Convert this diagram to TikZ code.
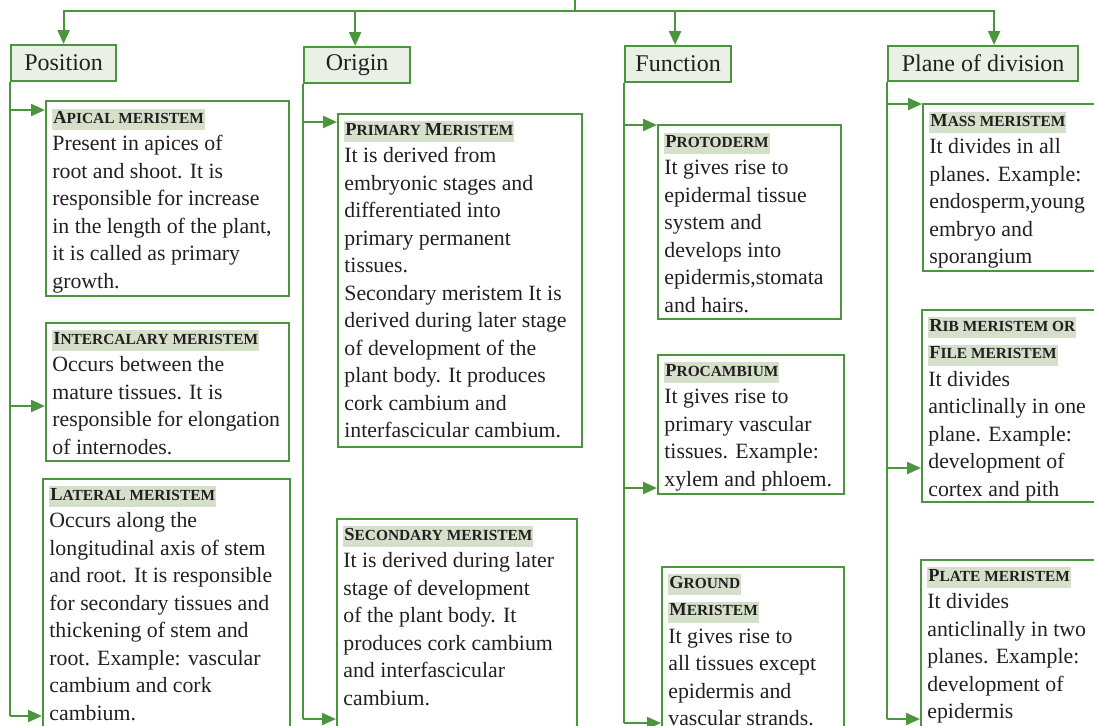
\documentclass[tikz,border=0pt]{standalone}
\usepackage{fontspec}
\setmainfont{Liberation Serif}
\usepackage{tikz}
\usepackage{xcolor}
\usetikzlibrary{arrows.meta,positioning}

\definecolor{leaf}{HTML}{4A953E}
\definecolor{headfill}{HTML}{EAF0E6}
\definecolor{hilite}{HTML}{D5E0CA}
\definecolor{ink}{HTML}{231F20}

\newcommand{\capl}[1]{{\fontsize{9.2}{10}\selectfont #1}}
\newcommand{\ttl}[1]{{\setlength{\fboxsep}{0.5pt}\colorbox{hilite}{\bfseries\fontsize{7.7}{10}\selectfont\rule[-3pt]{0pt}{9.5pt}#1}}}

\begin{document}
\begin{tikzpicture}[x=0.5pt,y=-0.5pt,every node/.style={text=ink},
  hdr/.style={draw=leaf,line width=1.1pt,fill=headfill,anchor=north west,inner sep=0pt,font=\fontsize{12}{14}\selectfont},
  box/.style={draw=leaf,line width=0.9pt,anchor=north west,inner sep=0pt},
  txt/.style={inner sep=0pt,align=left,font=\fontsize{10.9}{13.75}\selectfont},
  link/.style={leaf,line width=1.1pt},
  arr/.style={link,-{Triangle[length=7pt,width=6pt]}}]
\useasboundingbox (0,0) rectangle (1094,725);
\clip (0,0) rectangle (1094,725);

% headings
\node[hdr,minimum width=52.5pt,minimum height=18pt] (pos) at (10,44) {Position};
\node[hdr,minimum width=53pt,minimum height=18pt] (ori) at (303,46) {Origin};
\node[hdr,minimum width=53pt,minimum height=18pt] (fun) at (624,45) {Function};
\node[hdr,minimum width=95pt,minimum height=17.5pt] (pln) at (887,45) {Plane of division};

% top bar
\coordinate (stub) at (575,0);
\coordinate (top) at (575,11);
\draw[link] (stub) -- (top);
\draw[arr] (top) -| (pos.north);
\draw[arr] (top) -| ([xshift=-1pt]ori.north);
\draw[arr] (top) -| ([xshift=-1.5pt]fun.north);
\draw[arr] (top) -| ([xshift=5.5pt]pln.north);

% position
\node[box,minimum width=121.5pt,minimum height=97.5pt] (api) at (45,100) {};
\node[txt,below right=4.5pt and 3.5pt of api.north west] (apitxt) {\ttl{\capl{A}PICAL MERISTEM}\\Present in apices of\\root and shoot. It is\\responsible for increase\\in the length of the plant,\\it is called as primary\\growth.};
\node[box,minimum width=121.5pt,minimum height=69pt] (int) at (45,322) {};
\node[txt,below right=4pt and 3.5pt of int.north west] (inttxt) {\ttl{\capl{I}NTERCALARY MERISTEM}\\Occurs between the\\mature tissues. It is\\responsible for elongation\\of internodes.};
\node[box,minimum width=123.5pt,minimum height=150pt] (lat) at (42,478) {};
\node[txt,below right=4pt and 3.5pt of lat.north west] (lattxt) {\ttl{\capl{L}ATERAL MERISTEM}\\Occurs along the\\longitudinal axis of stem\\and root. It is responsible\\for secondary tissues and\\thickening of stem and\\root. Example: vascular\\cambium and cork\\cambium.};
\coordinate (apiin) at (45,110);
\coordinate (intin) at (45,406);
\coordinate (latin) at (42,716);
\draw[link] (pos.south west) -- (pos.south west |- latin);
\draw[arr] (pos.south west |- apiin) -- (apiin);
\draw[arr] (pos.south west |- intin) -- (intin);
\draw[arr] (pos.south west |- latin) -- (latin);

% origin
\node[box,minimum width=122pt,minimum height=166.5pt] (pri) at (337,113) {};
\node[txt,below right=4pt and 3.5pt of pri.north west] (pritxt) {\ttl{\capl{P}RIMARY \capl{M}ERISTEM}\\It is derived from\\embryonic stages and\\differentiated into\\primary permanent\\tissues.\\Secondary meristem It is\\derived during later stage\\of development of the\\plant body. It produces\\cork cambium and\\interfascicular cambium.};
\node[box,minimum width=120pt,minimum height=150pt] (sec) at (336,518) {};
\node[txt,below right=4pt and 3.5pt of sec.north west] (sectxt) {\ttl{\capl{S}ECONDARY MERISTEM}\\It is derived during later\\stage of development\\of the plant body. It\\produces cork cambium\\and interfascicular\\cambium.};
\coordinate (priin) at (337,122);
\coordinate (secin) at (336,719);
\draw[link] (ori.south west) -- (ori.south west |- secin);
\draw[arr] (ori.south west |- priin) -- (priin);
\draw[arr] (ori.south west |- secin) -- (secin);

% function
\node[box,minimum width=91.5pt,minimum height=97pt] (pro) at (657,124) {};
\node[txt,below right=4.5pt and 3.5pt of pro.north west] (protxt) {\ttl{\capl{P}ROTODERM}\\It gives rise to\\epidermal tissue\\system and\\develops into\\epidermis,stomata\\and hairs.};
\node[box,minimum width=93pt,minimum height=69.5pt] (prc) at (657,354) {};
\node[txt,below right=4pt and 3.5pt of prc.north west] (prctxt) {\ttl{\capl{P}ROCAMBIUM}\\It gives rise to\\primary vascular\\tissues. Example:\\xylem and phloem.};
\node[box,minimum width=91pt,minimum height=100pt] (gro) at (661,566) {};
\node[txt,below right=4pt and 3.5pt of gro.north west] (grotxt) {\ttl{\capl{G}ROUND}\\\ttl{\capl{M}ERISTEM}\\It gives rise to\\all tissues except\\epidermis and\\vascular strands.};
\coordinate (proin) at (657,125);
\coordinate (prcin) at (657,488);
\coordinate (groin) at (661,723);
\draw[link] (fun.south west) -- (fun.south west |- groin);
\draw[arr] (fun.south west |- proin) -- (proin);
\draw[arr] (fun.south west |- prcin) -- (prcin);
\draw[arr] (fun.south west |- groin) -- (groin);

% plane of division
\node[box,minimum width=125pt,minimum height=83.5pt] (mas) at (922,103) {};
\node[txt,below right=4.5pt and 3.5pt of mas.north west] (mastxt) {\ttl{\capl{M}ASS MERISTEM}\\It divides in all\\planes. Example:\\endosperm,young\\embryo and\\sporangium};
\node[box,minimum width=125pt,minimum height=96pt] (rib) at (921,309) {};
\node[txt,below right=4pt and 3.5pt of rib.north west] (ribtxt) {\ttl{\capl{R}IB MERISTEM OR}\\\ttl{\capl{F}ILE MERISTEM}\\It divides\\anticlinally in one\\plane. Example:\\development of\\cortex and pith};
\node[box,minimum width=125pt,minimum height=100pt] (plt) at (920,559) {};
\node[txt,below right=4pt and 3.5pt of plt.north west] (plttxt) {\ttl{\capl{P}LATE MERISTEM}\\It divides\\anticlinally in two\\planes. Example:\\development of\\epidermis};
\coordinate (masin) at (922,104);
\coordinate (ribin) at (921,468);
\coordinate (pltin) at (920,719);
\draw[link] (pln.south west) -- (pln.south west |- pltin);
\draw[arr] (pln.south west |- masin) -- (masin);
\draw[arr] (pln.south west |- ribin) -- (ribin);
\draw[arr] (pln.south west |- pltin) -- (pltin);
\end{tikzpicture}
\end{document}
